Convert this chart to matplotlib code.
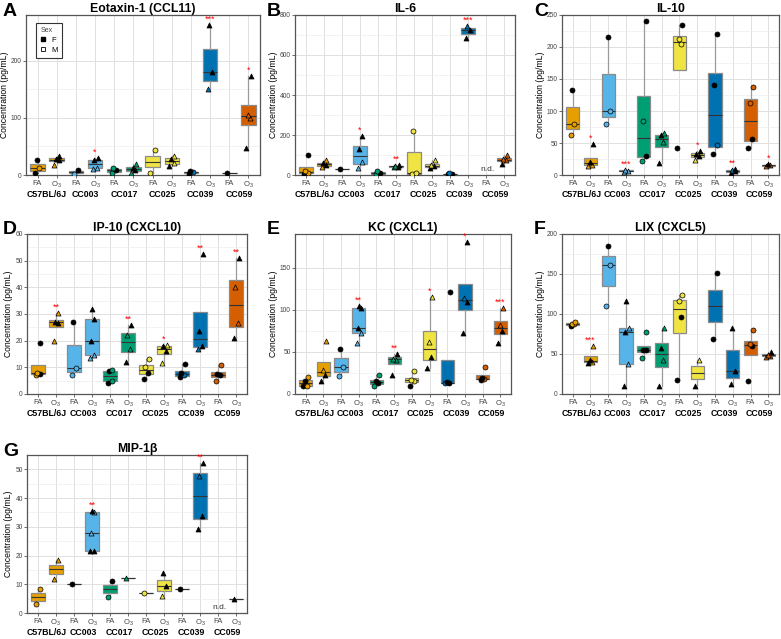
import numpy as np
import matplotlib
matplotlib.use("Agg")
import matplotlib.pyplot as plt
from matplotlib.lines import Line2D

plt.rcParams['font.family'] = ['Liberation Sans', 'DejaVu Sans']
plt.rcParams['mathtext.fontset'] = 'custom'
plt.rcParams['mathtext.rm'] = 'Liberation Sans'
plt.rcParams['mathtext.it'] = 'Liberation Sans:italic'

strains = ["C57BL/6J", "CC003", "CC017", "CC025", "CC039", "CC059"]
exposures = ["FA", "O$_3$"]
strain_colors = ["#E69F00", "#56B4E9", "#009E73", "#F0E442", "#0072B2", "#D55E00"]

# values per group, order: strain x (FA, O3); sex string per group
eotaxin_vals = [[3, 12, 27], [17, 26, 28, 33], [2, 8], [10, 13, 26, 30],
                [4, 8, 12], [4, 8, 12, 19], [4, 43], [15, 21, 28, 33],
                [2, 5, 7], [150, 180, 262], [3], [48, 100, 105, 173]]
eotaxin_sex = ["FMF", "MFFF", "MF", "MMFF", "MFM", "MFFM", "MM", "FMFM", "FMF", "MFF", "F", "FMMF"]
eotaxin_stars = ["", "", "", "*", "", "", "", "", "", "***", "", "*"]

il6_vals = [[3, 10, 18, 100], [40, 48, 58, 75], [32], [33, 65, 128, 195],
            [3, 12, 18], [38, 42, 45, 50], [3, 8, 220], [35, 45, 50, 75],
            [3, 5, 8], [685, 725, 745], [], [55, 75, 80, 100]]
il6_sex = ["FMMF", "MFFM", "F", "MMFF", "MFM", "MFMF", "MMM", "FFMM", "FFM", "FFM", "", "FMMM"]
il6_stars = ["", "", "", "*", "", "**", "", "", "", "***", "", ""]

il10_vals = [[63, 80, 133], [14, 16, 20, 48], [80, 100, 215], [5, 7, 8],
             [22, 30, 85, 240], [18, 52, 62, 66], [42, 204, 212, 234], [23, 30, 33, 37],
             [33, 47, 140, 220], [3, 6, 8, 9], [42, 57, 112, 138], [14, 15, 17]]
il10_sex = ["MMF", "MMFF", "MMF", "MMM", "MFMF", "FMFM", "FMMF", "MFFF", "FMFF", "FFMF", "FFMM", "MMF"]
il10_stars = ["", "*", "", "***", "", "", "", "*", "", "**", "", "*"]

ip10_vals = [[7, 7.5, 8, 19], [20, 26.7, 27, 30.5], [7, 9.7, 27], [13.5, 14.5, 20, 28, 32],
             [4, 5, 8.7, 9], [12, 17, 22, 25.7], [5.5, 8, 10, 13.2], [11.5, 16, 18, 18.5],
             [6.2, 7, 8, 11.2], [16.7, 18, 23.5, 52.5], [5, 7, 7.5, 11], [21, 26.5, 40, 51]]
ip10_sex = ["MFMF", "MFFM", "MMF", "MMFFF", "FMFM", "FMMF", "FFMM", "MFFM", "FMFF", "MFFF", "MFFM", "FMMF"]
ip10_stars = ["", "**", "", "", "", "**", "", "*", "", "**", "", "**"]

kc_vals = [[9, 10, 15, 20], [16, 23, 29, 63], [21, 32, 53.5], [60, 73, 78, 102, 104],
           [10, 13, 15, 23], [22, 40, 42, 48], [10, 16, 17, 27], [31, 44, 62, 115],
           [12.5, 13, 14, 121], [72, 109, 114, 181], [17, 17.5, 19, 32], [60, 75, 82, 102]]
kc_sex = ["FMFM", "FFMM", "MMF", "MMFFF", "MFFM", "FMMF", "FMMM", "FFMM", "MFFF", "FFMF", "FMFM", "FFMM"]
kc_stars = ["", "", "", "**", "", "**", "", "*", "", "*", "", "***"]

lix_vals = [[85, 87, 88, 90], [39, 40, 43, 60], [110, 161, 185], [10, 38, 77, 83, 116],
            [45, 55, 55, 77], [10, 42, 57, 82], [18, 96, 116, 124], [10, 43],
            [69, 151], [12, 29, 82], [16, 60, 62, 80], [46, 48, 49, 52]]
lix_sex = ["FMMM", "FMFM", "MMF", "FMFMF", "MFFM", "FMFM", "FFMM", "FM", "FF", "FFF", "FFMM", "MMMF"]
lix_stars = ["", "***", "", "", "", "", "", "", "", "", "", ""]

mip_vals = [[3, 8.2], [12, 18.5], [10.2], [21.5, 21.6, 27.8, 35, 35.5],
            [5.7, 11], [12.3], [7.1], [6, 9.3, 14],
            [8.2], [29.3, 33.7, 47.7, 52.3], [], [5]]
mip_sex = ["MM", "MM", "F", "FFMMF", "MF", "M", "M", "MFF", "F", "FFMF", "", "F"]
mip_stars = ["", "", "", "**", "", "", "", "", "", "**", "", ""]

panels = [
    ("A", "Eotaxin-1 (CCL11)", eotaxin_vals, eotaxin_sex, eotaxin_stars, 280, [0, 100, 200], [26, 15, 260, 175]),
    ("B", "IL-6", il6_vals, il6_sex, il6_stars, 800, [0, 200, 400, 600, 800], [295, 15, 515, 175]),
    ("C", "IL-10", il10_vals, il10_sex, il10_stars, 250, [0, 50, 100, 150, 200, 250], [562, 15, 779, 175]),
    ("D", "IP-10 (CXCL10)", ip10_vals, ip10_sex, ip10_stars, 60, [0, 10, 20, 30, 40, 50, 60], [27, 234, 247, 394]),
    ("E", "KC (CXCL1)", kc_vals, kc_sex, kc_stars, 190, [0, 50, 100, 150], [295, 234, 511, 394]),
    ("F", "LIX (CXCL5)", lix_vals, lix_sex, lix_stars, 200, [0, 50, 100, 150, 200], [562, 234, 779, 394]),
    ("G", "MIP-1\u03b2", mip_vals, mip_sex, mip_stars, 55, [0, 10, 20, 30, 40, 50], [27, 455, 247, 613]),
]

W, H = 781, 639
fig = plt.figure(figsize=(W / 100, H / 100), dpi=100)
jitter = [-0.12, 0.1, -0.04, 0.14, 0.02]

for letter, title, vals, sexes, stars, ytop, yticks, (x0, y0, x1, y1) in panels:
    ax = fig.add_axes([x0 / W, 1 - y1 / H, (x1 - x0) / W, (y1 - y0) / H])

    for i, (v, sx) in enumerate(zip(vals, sexes)):
        pos = i + 1
        col = strain_colors[i // 2]
        if len(v) == 0:
            ax.text(pos + 0.1, ytop * 0.015, "n.d.", ha='center', va='bottom', fontsize=6, color='#333333')
            continue
        ax.boxplot([v], positions=[pos], widths=0.75, patch_artist=True, showfliers=False,
                   whis=1.5, showcaps=False, manage_ticks=False,
                   boxprops=dict(facecolor=col, edgecolor='#8A8A8A', lw=0.9),
                   medianprops=dict(color='#333333', lw=0.8),
                   whiskerprops=dict(color='#9A9A9A', lw=0.9))
        mk = 'o' if i % 2 == 0 else '^'
        for k, (val, s) in enumerate(zip(v, sx)):
            fc = 'black' if s == 'F' else col
            ax.scatter(pos + jitter[k % 5], val, marker=mk, s=13, facecolor=fc,
                       edgecolor='black', linewidth=0.5, zorder=4)
        if stars[i]:
            ax.text(pos, max(v) + ytop * 0.008, stars[i], ha='center', va='bottom',
                    color='red', fontsize=6.5)

    ax.set_xlim(0.4, 12.6)
    ax.set_ylim(0, ytop)
    ax.set_axisbelow(True)
    minor = [(a + b) / 2 for a, b in zip(yticks[:-1], yticks[1:])]
    ax.set_yticks(yticks)
    ax.set_yticks(minor, minor=True)
    ax.grid(True, which='major', color='#E0E0E0', lw=0.7)
    ax.grid(True, which='minor', axis='y', color='#EEEEEE', lw=0.5)
    for s in ax.spines.values():
        s.set_color('#555555')
        s.set_linewidth(0.9)
    ax.tick_params(axis='y', which='major', labelsize=4.8, colors='#555555',
                   labelcolor='#444444', length=2, width=0.6, pad=1)
    ax.tick_params(axis='y', which='minor', length=0)
    ax.set_xticks(range(1, 13))
    ax.set_xticklabels(exposures * 6)
    ax.tick_params(axis='x', labelsize=5.5, colors='#555555', labelcolor='#444444',
                   length=2, width=0.6, pad=1.5)
    ax.set_ylabel("Concentration (pg/mL)", fontsize=6.2, labelpad=1.5)

    # strain labels below tick labels
    for j, st in enumerate(strains):
        ax.annotate(st, xy=(2 * j + 1.5, 0), xycoords=('data', 'axes fraction'),
                    xytext=(0, -10.5), textcoords='offset points', ha='center', va='top',
                    fontsize=6.3, fontweight='bold')

    ax.set_title(title, fontsize=8.8, fontweight='bold', pad=2)
    lx = 3 if letter in "ADG" else x0 - 28
    fig.text(lx / W, 1 - (y0 - 4) / H, letter,
             fontsize=14, fontweight='bold', ha='left', va='center')

    if letter == "A":
        handles = [Line2D([], [], marker='s', ls='', color='black', markersize=3),
                   Line2D([], [], marker='s', ls='', markerfacecolor='white',
                          markeredgecolor='black', markeredgewidth=0.6, markersize=3)]
        leg = ax.legend(handles, ["F", "M"], title="Sex", loc='upper left',
                        fontsize=5.5, title_fontsize=5, frameon=True, fancybox=False,
                        handlelength=0.8, handletextpad=0.6, borderpad=0.6,
                        labelspacing=0.3, bbox_to_anchor=(0.025, 0.975))
        leg.get_frame().set_edgecolor('black')
        leg.get_frame().set_linewidth(0.8)
        leg.get_title().set_color('#444444')
        leg._legend_box.align = "left"

fig.savefig("out.png", dpi=100)
